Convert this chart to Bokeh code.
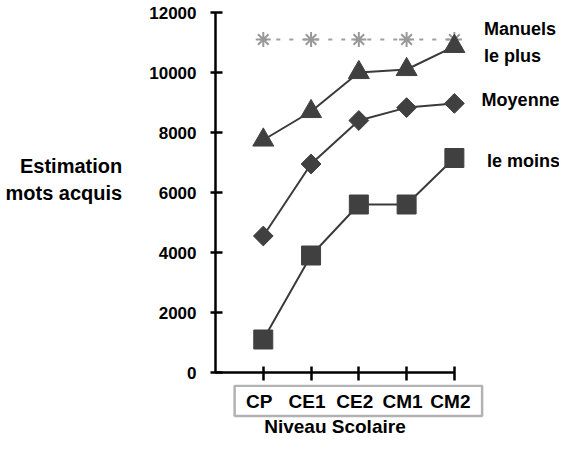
import math
from bokeh.plotting import figure
from bokeh.models import FixedTicker, BoxAnnotation, Range1d
from bokeh.layouts import column
from bokeh.core.properties import value
from bokeh.embed import file_html
from bokeh.resources import INLINE

levels = ["CP", "CE1", "CE2", "CM1", "CM2"]
manuels = [11100, 11100, 11100, 11100, 11100]
le_plus = [7750, 8700, 10000, 10100, 10870]
moyenne = [4550, 6950, 8400, 8830, 8970]
le_moins = [1100, 3900, 5600, 5600, 7150]
y_ticks = [0, 2000, 4000, 6000, 8000, 10000, 12000]
series_names = ["Manuels", "le plus", "Moyenne", "le moins"]

xs = list(range(1, len(levels) + 1))
FONT = "Liberation Sans"
W = 559
LEFT = 215
TOP_H = 384
BOT_H = 437 - TOP_H
X_END = 7.2

# ---------------- main plot ----------------
p = figure(width=W, height=TOP_H, output_backend="svg", toolbar_location=None,
           x_range=Range1d(0, X_END), y_range=Range1d(0, 12000),
           min_border_left=LEFT, min_border_right=0, min_border_top=12, min_border_bottom=12)
p.outline_line_color = None
p.xgrid.visible = False
p.ygrid.visible = False

p.yaxis.ticker = FixedTicker(ticks=y_ticks)
p.yaxis.bounds = (0, 12000)
p.yaxis.axis_line_width = 2.5
p.yaxis.major_tick_line_width = 2.5
p.yaxis.major_tick_in = 7
p.yaxis.major_tick_out = 5
p.yaxis.minor_tick_line_color = None
p.yaxis.major_label_standoff = 14
p.yaxis.major_label_text_font = FONT
p.yaxis.major_label_text_font_style = "bold"
p.yaxis.major_label_text_font_size = "17px"
p.yaxis.major_label_text_color = "black"
p.yaxis.axis_label = "Estimation\nmots acquis\n "
p.yaxis.axis_label_orientation = "horizontal"
p.yaxis.axis_label_standoff = 24
p.yaxis.axis_label_text_align = "center"
p.yaxis.axis_label_text_font = FONT
p.yaxis.axis_label_text_font_style = "bold"
p.yaxis.axis_label_text_font_size = "20px"
p.yaxis.axis_label_text_color = "black"

p.xaxis.ticker = FixedTicker(ticks=xs)
p.xaxis.bounds = (0, 5)
p.xaxis.axis_line_width = 2.5
p.xaxis.major_tick_line_width = 2.5
p.xaxis.major_tick_in = 6
p.xaxis.major_tick_out = 8
p.xaxis.minor_tick_line_color = None
p.xaxis.major_label_standoff = 0
p.xaxis.major_label_text_font_size = "1px"
p.xaxis.major_label_text_color = None

p.line(xs, manuels, line_color="#a0a0a0", line_width=2, line_dash="4 9")
p.scatter(xs, manuels, marker="asterisk", size=15, line_color="#999999", line_width=2)

line_col = "#3a3a3a"
mark_col = "#404040"
p.line(xs, le_plus, line_color=line_col, line_width=2)
p.scatter(xs, le_plus, marker="triangle", size=21, fill_color=mark_col, line_color=mark_col)
p.line(xs, moyenne, line_color=line_col, line_width=2)
p.scatter(xs, moyenne, marker="square", angle=math.pi / 4, size=14,
          fill_color=mark_col, line_color=mark_col)
p.line(xs, le_moins, line_color=line_col, line_width=2)
p.scatter(xs, le_moins, marker="square", size=19, fill_color=mark_col, line_color=mark_col)

# series names at the right end of the lines (layout positions)
name_x = [5.62, 5.62, 5.57, 5.68]
name_y = [11450, 10550, 9100, 7050]
p.text(name_x, name_y, text=series_names, text_font=value(FONT), text_font_style="bold",
       text_font_size="18px", text_align="left", text_baseline="middle", text_color="black")

# ---------------- category strip below ----------------
p2 = figure(width=W, height=BOT_H, output_backend="svg", toolbar_location=None,
            x_range=p.x_range, y_range=Range1d(BOT_H, 0),
            min_border_left=LEFT, min_border_right=0, min_border_top=0, min_border_bottom=0)
p2.outline_line_color = None
p2.grid.visible = False
p2.axis.visible = False
p2.add_layout(BoxAnnotation(left=0.40, right=5.58, top=1.3, bottom=31.5,
                            fill_color=None, line_color="black", line_width=2.5))
p2.text(xs, [16.5] * len(xs), text=levels, x_offset=-4, text_font=value(FONT),
        text_font_style="bold", text_font_size="19px", text_align="center",
        text_baseline="middle", text_color="black")
p2.text([2.5], [42], text=["Niveau Scolaire"], text_font=value(FONT),
        text_font_style="bold", text_font_size="19px", text_align="center",
        text_baseline="middle", text_color="black")

layout = column(p, p2, spacing=0)
open("out.html", "w").write(file_html(layout, INLINE))
